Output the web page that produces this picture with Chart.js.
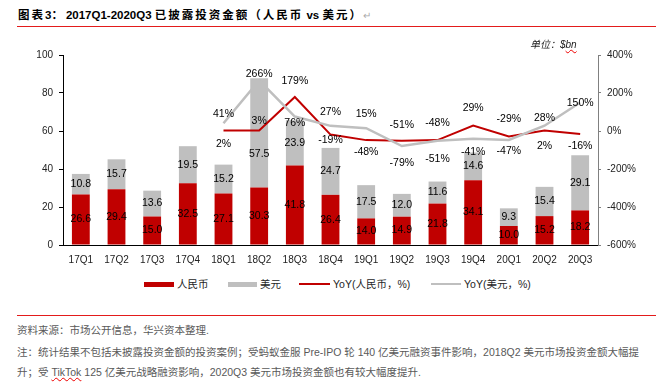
<!DOCTYPE html>
<html>
<head>
<meta charset="utf-8">
<script src="https://cdn.jsdelivr.net/npm/chart.js@4.4.1/dist/chart.umd.min.js"></script>
<style>
    body { margin: 0; width: 660px; height: 392px; background: #fff; position: relative; overflow: hidden;
           font-family: "Liberation Sans", Arial, "Noto Sans CJK SC", sans-serif; }
    .abs { position: absolute; white-space: nowrap; }
    .rule { position: absolute; left: 17px; width: 639px; height: 1px; background: #e31b1b; }
    #title { left: 18px; top: 8px; font-weight: bold; font-size: 11.5px; line-height: 14px; color: #000; letter-spacing: 2px; }
    #title .lat { font-family: "Liberation Sans Narrow", "Liberation Sans", Arial, sans-serif; font-size: 11.5px; letter-spacing: 0; }
    #unit { left: 530px; top: 38px; font-style: italic; font-size: 10px; line-height: 14px; color: #222; z-index: 2; }
    .wavy { text-decoration: underline wavy #e00; text-decoration-thickness: 1px; }
    #chart-box { position: absolute; left: 0; top: 40px; width: 660px; height: 230px; }
    .lg { position: absolute; top: 277px; height: 14px; font-size: 10.5px; line-height: 14px; color: #262626; white-space: nowrap; }
    .lg i { display: inline-block; vertical-align: middle; margin-right: 3px; margin-top: -2px; }
    .note { position: absolute; left: 17px; font-size: 10.5px; line-height: 14px; color: #595959; white-space: nowrap; }
</style>
</head>
<body>

<div id="title" class="abs">图表<span class="lat">3</span>：<span class="lat" style="margin-left:1px">2017Q1-2020Q3 </span>已披露投资金额（人民币<span class="lat"> vs </span>美元）<span style="color:#aaa;font-weight:normal;letter-spacing:0;font-size:10px">↵</span></div>
<div class="rule" style="top:26px"></div>

<div id="chart-box"><canvas id="invest-chart" width="660" height="230"></canvas></div>
<div id="unit" class="abs">单位：$<span class="wavy">bn</span></div>

<div class="lg" style="left:144px"><i style="width:30px;height:5px;background:#C00000"></i>人民币</div>
<div class="lg" style="left:228px"><i style="width:29px;height:5px;background:#BFBFBF"></i>美元</div>
<div class="lg" style="left:299px"><i style="width:31px;height:2px;background:#C00000"></i>YoY(人民币，%)</div>
<div class="lg" style="left:431px"><i style="width:30px;height:2px;background:#BFBFBF"></i>YoY(美元，%)</div>

<div class="rule" style="top:315px"></div>
<div class="note" style="top:323px">资料来源：市场公开信息，华兴资本整理.</div>
<div class="note" style="top:345px">注：统计结果不包括未披露投资金额的投资案例；受蚂蚁金服 Pre-IPO 轮 140 亿美元融资事件影响，2018Q2 美元市场投资金额大幅提</div>
<div class="note" style="top:365px">升；受 <span class="wavy">TikTok</span> 125 亿美元战略融资影响，2020Q3 美元市场投资金额也有较大幅度提升.</div>

<script>
/* ── DATA ─────────────────────────────────────────────── */
const categories = ['17Q1', '17Q2', '17Q3', '17Q4', '18Q1', '18Q2', '18Q3', '18Q4',
                    '19Q1', '19Q2', '19Q3', '19Q4', '20Q1', '20Q2', '20Q3'];
const rmbValues = [26.6, 29.4, 15.0, 32.5, 27.1, 30.3, 41.8, 26.4, 14.0, 14.9, 21.8, 34.1, 10.0, 15.2, 18.2];
const usdValues = [10.8, 15.7, 13.6, 19.5, 15.2, 57.5, 23.9, 24.7, 17.5, 12.0, 11.6, 14.6, 9.3, 15.4, 29.1];
const yoyRmb = [null, null, null, null, 2, 3, 179, -19, -48, -51, -48, 29, -29, 2, -16];
const yoyUsd = [null, null, null, null, 41, 266, 76, 27, 15, -79, -51, -41, -47, 28, 150];
const amountTicks = { min: 0, max: 100, step: 20 };
const yoyTicks = { min: -600, max: 400, step: 200 };

/* label nudges (px), as placed in the original figure */
const rmbYoyLabelDy = [0, 0, 0, 0, 13, -9, -16, 5, 12, -16, -17, -17, -17, 15, 12];
const usdYoyLabelDy = [0, 0, 0, 0, -9, -6, 7, -14, -14, 17, 18, 13, 11, -8, 1];
const usdBarLabelDy = { 5: 21 };

const RED = '#C00000';
const GREY = '#BFBFBF';
const FONT = '"Liberation Sans", Arial, sans-serif';

/* ── VALUE LABELS ─────────────────────────────────────── */
const valueLabels = {
    id: 'valueLabels',
    afterDatasetsDraw(chart) {
        const ctx = chart.ctx;
        ctx.save();
        ctx.font = '10.5px ' + FONT;
        ctx.fillStyle = '#000';
        ctx.textAlign = 'center';
        ctx.textBaseline = 'middle';
        chart.data.datasets.forEach((ds, di) => {
            const meta = chart.getDatasetMeta(di);
            meta.data.forEach((el, i) => {
                const v = ds.data[i];
                if (v === null || v === undefined) return;
                if (meta.type === 'bar') {
                    const p = el.getProps(['x', 'y', 'base'], true);
                    const dy = (di === 1 && usdBarLabelDy[i]) || 0;
                    ctx.fillText(v.toFixed(1), p.x, (p.y + p.base) / 2 + dy);
                } else {
                    const dy = di === 2 ? rmbYoyLabelDy[i] : usdYoyLabelDy[i];
                    ctx.fillText(v + '%', el.x, el.y + dy);
                }
            });
        });
        ctx.restore();
    }
};

new Chart(document.getElementById('invest-chart'), {
    type: 'bar',
    data: {
        labels: categories,
        datasets: [
            { label: '人民币', data: rmbValues, backgroundColor: RED, yAxisID: 'y', order: 2,
              barPercentage: 0.5, categoryPercentage: 1 },
            { label: '美元', data: usdValues, backgroundColor: GREY, yAxisID: 'y', order: 3,
              barPercentage: 0.5, categoryPercentage: 1 },
            { type: 'line', label: 'YoY(人民币，%)', data: yoyRmb, yAxisID: 'y1', order: 1,
              borderColor: RED, borderWidth: 2, pointRadius: 0, tension: 0, spanGaps: false },
            { type: 'line', label: 'YoY(美元，%)', data: yoyUsd, yAxisID: 'y1', order: 0,
              borderColor: GREY, borderWidth: 2.5, pointRadius: 0, tension: 0, spanGaps: false },
        ],
    },
    options: {
        responsive: false,
        animation: false,
        layout: { padding: { top: 15, left: 0, right: 0, bottom: 0 } },
        plugins: { legend: { display: false }, tooltip: { enabled: false } },
        scales: {
            x: {
                stacked: true,
                grid: { display: false, drawTicks: false },
                border: { color: '#000', width: 1 },
                ticks: { font: { family: FONT, size: 10 }, color: '#222', padding: 9, maxRotation: 0 },
                afterFit: s => { s.height = 25; },
            },
            y: {
                stacked: true,
                position: 'left',
                min: amountTicks.min, max: amountTicks.max,
                ticks: { stepSize: amountTicks.step, font: { family: FONT, size: 10 }, color: '#222', padding: 6 },
                grid: { drawOnChartArea: false, tickLength: 4, color: '#000' },
                border: { color: '#000', width: 1 },
                afterFit: s => { s.width = 63; },
            },
            y1: {
                position: 'right',
                min: yoyTicks.min, max: yoyTicks.max,
                ticks: { stepSize: yoyTicks.step, font: { family: FONT, size: 10 }, color: '#222', padding: 6,
                         callback: v => v + '%' },
                grid: { drawOnChartArea: false, tickLength: 3, color: '#808080' },
                border: { color: '#808080', width: 1 },
                afterFit: s => { s.width = 62; },
            },
        },
    },
    plugins: [valueLabels],
});
</script>
</body>
</html>
